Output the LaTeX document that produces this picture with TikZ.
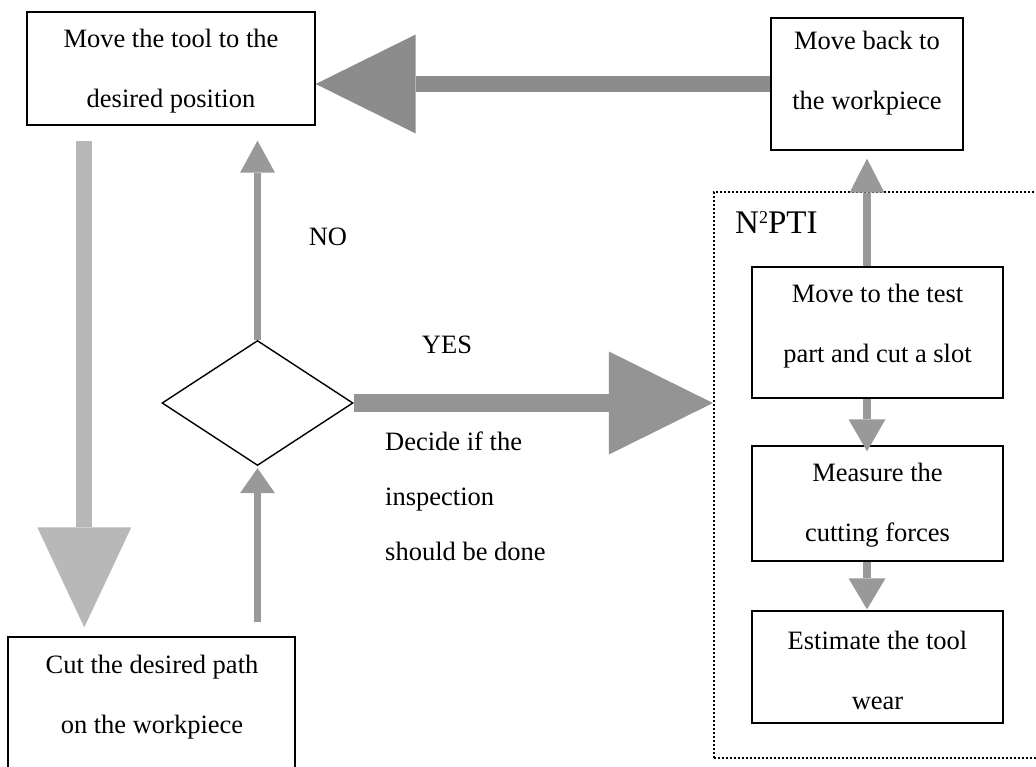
\documentclass[tikz,border=0pt]{standalone}
\usepackage{fontspec}
\setmainfont{Liberation Serif}
\usetikzlibrary{shapes.geometric,arrows.meta}
\definecolor{gL}{gray}{0.55}
\definecolor{gD}{gray}{0.72}
\definecolor{gY}{gray}{0.58}
\definecolor{gS}{gray}{0.6}
\begin{document}
\begin{tikzpicture}[x=1pt,y=-1pt,
  box/.style={draw, line width=1.4pt, rectangle, inner sep=0pt},
  txt/.style={font=\fontsize{26.5}{60}\selectfont, align=center, inner sep=0pt},
  lbl/.style={font=\fontsize{26.5}{30}\selectfont, inner sep=0pt},
  bigarrow/.style={draw=#1, line width=16pt},
  thinarrow/.style={draw=#1, line width=7.5pt}
]
\useasboundingbox (0,0) rectangle (1036,766);
\fill[white] (0,0) rectangle (1036,766);

% boxes
\node[box, minimum width=288pt, minimum height=113pt] (tl) at (171,68.5) {};
\node[box, minimum width=192pt, minimum height=132pt] (tr) at (867,84) {};
\node[box, minimum width=287pt, minimum height=163pt] (bl) at (151.5,718.5) {};
\node[draw, dash pattern=on 2pt off 2pt, line width=2.2pt, rectangle, inner sep=0pt,
      minimum width=331pt, minimum height=566pt] (npti) at (879.5,475) {};
\node[box, minimum width=251pt, minimum height=131pt] (b1) at (877.5,332.5) {};
\node[box, minimum width=251pt, minimum height=115pt] (b2) at (877.5,503.5) {};
\node[box, minimum width=251pt, minimum height=112pt] (b3) at (877.5,667) {};
\node[draw, line width=1.4pt, diamond, inner sep=0pt, aspect=1.53,
      minimum width=191pt, minimum height=125pt] (d) at (257.5,403) {};

% texts
\node[txt] (ttl) at (171,71) {Move the tool to the\\desired position};
\node[txt] (ttr) at (867,73) {Move back to\\the workpiece};
\node[txt] (tbl) at (152,697) {Cut the desired path\\on the workpiece};
\node[txt] (tb1) at (877.5,326) {Move to the test\\part and cut a slot};
\node[txt] (tb2) at (877.5,505) {Measure the\\cutting forces};
\node[txt] (tb3) at (877.5,670) {Estimate the tool\\wear};
\node[txt, font=\fontsize{26.5}{55}\selectfont, align=left, anchor=west] (tdec) at (385,496) {Decide if the\\inspection\\should be done};
\node[lbl] (tyes) at (447,345) {YES};
\node[lbl] (tno) at (328,237) {NO};
\node[font=\fontsize{33}{33}\selectfont, anchor=west, inner sep=0pt] (tn) at (735,223)
  {N\raisebox{10pt}{\fontsize{18}{18}\selectfont 2}PTI};

% block arrows
\draw[bigarrow=gL, -{Triangle[length=100pt,width=99pt,line width=0pt]}]
  (tr.west) -- (tr.west -| tl.east);
\draw[bigarrow=gD, shorten <=15pt, shorten >=9pt, -{Triangle[length=100pt,width=94pt,line width=0pt]}]
  ([xshift=58pt]tl.south west) -- ([xshift=77pt]bl.north west);
\draw[bigarrow=gY, line width=18pt, -{Triangle[length=104pt,width=103pt,line width=0pt]}]
  (d.east) -- (d.east -| npti.west);
\draw[thinarrow=gS, shorten >=15pt, -{Triangle[length=32pt,width=35pt,line width=0pt]}]
  (d.north) -- (d.north |- tl.south);
\draw[thinarrow=gS, shorten <=14pt, shorten >=2pt, -{Triangle[length=25pt,width=35pt,line width=0pt]}]
  (d.south |- bl.north) -- (d.south);
\draw[thinarrow=gS, shorten >=8pt, -{Triangle[length=34pt,width=35pt,line width=0pt]}]
  (b1.north -| tr.south) -- (tr.south);
\draw[thinarrow=gS, shorten >=-6pt, -{Triangle[length=32pt,width=37pt,line width=0pt]}]
  (b1.south -| tr.south) -- (b2.north -| tr.south);
\draw[thinarrow=gS, shorten >=1pt, -{Triangle[length=31pt,width=37pt,line width=0pt]}]
  (b2.south -| tr.south) -- (b3.north -| tr.south);
\end{tikzpicture}
\end{document}
